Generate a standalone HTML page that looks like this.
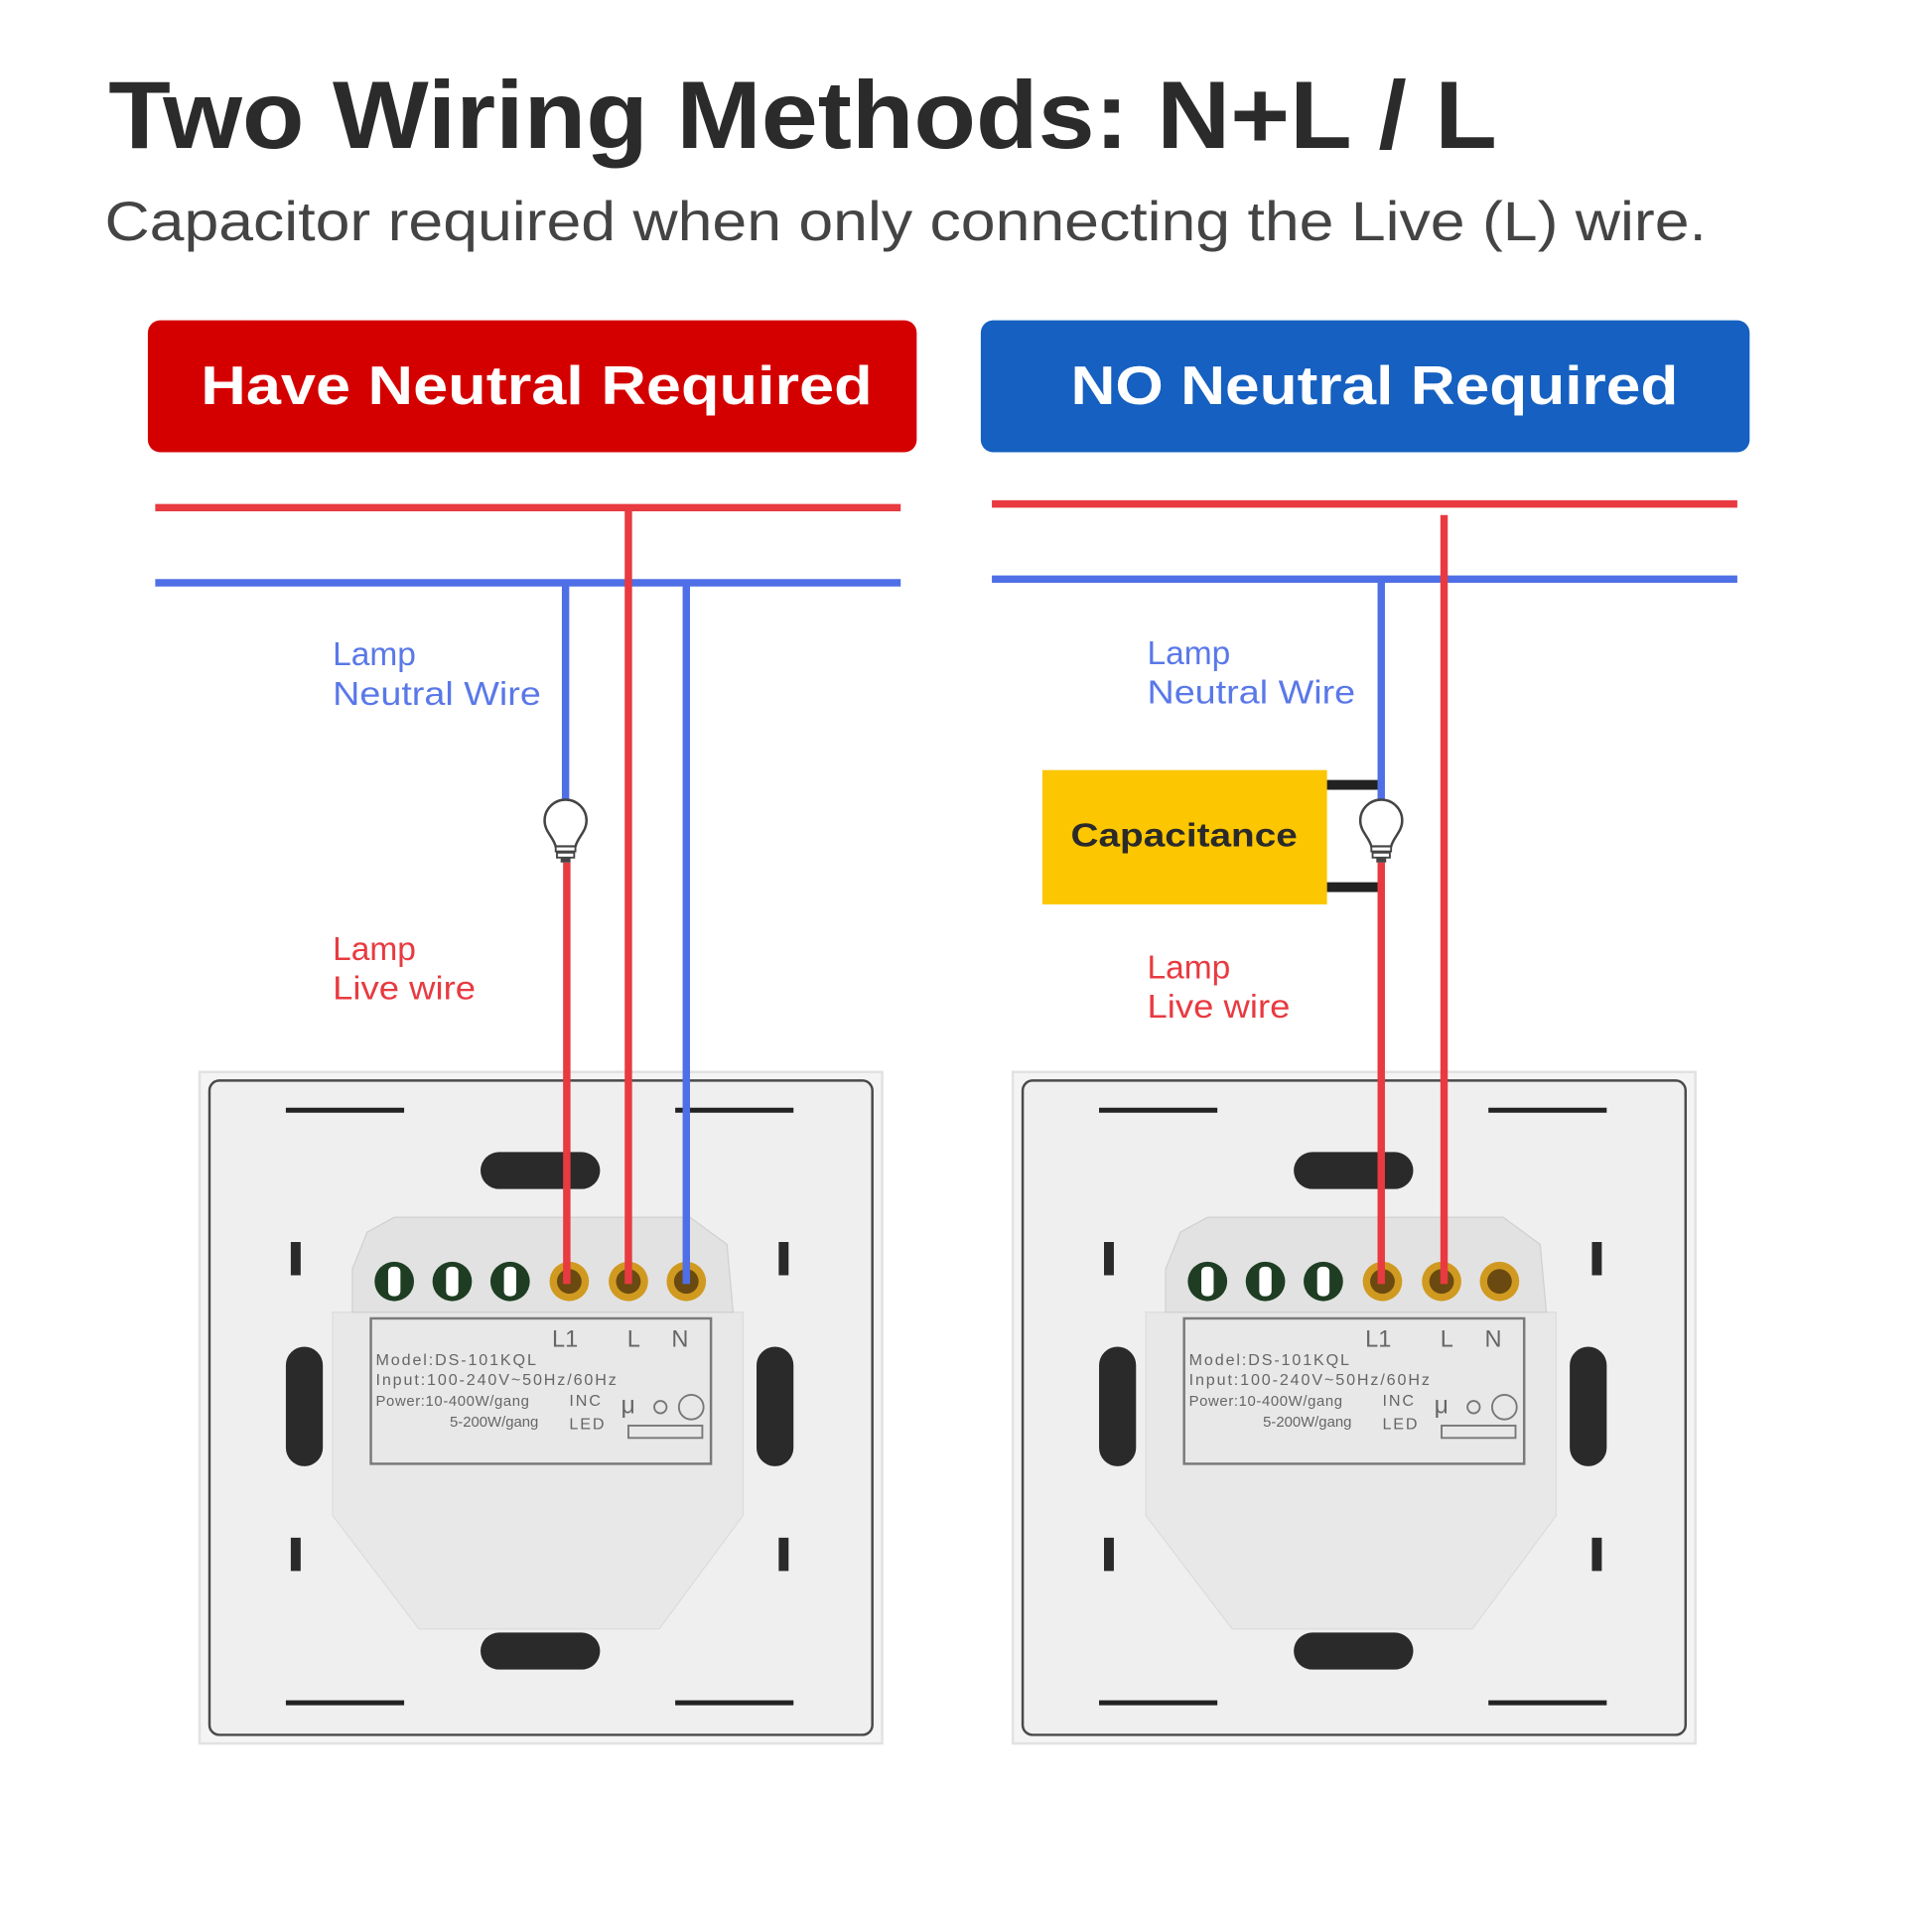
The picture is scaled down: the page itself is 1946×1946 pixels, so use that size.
<!DOCTYPE html>
<html><head><meta charset="utf-8"><style>
html,body{margin:0;padding:0;background:#fff;}
svg{display:block;}
text{font-family:"Liberation Sans",sans-serif;}
</style></head><body>
<svg width="1946" height="1946" viewBox="0 0 1568 1568" xmlns="http://www.w3.org/2000/svg">
<defs>
<g id="plate">
  <rect x="162" y="870" width="554" height="545" fill="#f4f4f4" stroke="#e2e2e2" stroke-width="2"/>
  <rect x="170" y="877" width="538" height="531" rx="8" fill="#f0f0f0" stroke="#4a4a4a" stroke-width="2"/>
  <rect x="172" y="879" width="534" height="527" rx="7" fill="#efefef"/>
  <g stroke="#222" stroke-width="4">
    <line x1="232" y1="901" x2="328" y2="901"/><line x1="548" y1="901" x2="644" y2="901"/>
    <line x1="232" y1="1382" x2="328" y2="1382"/><line x1="548" y1="1382" x2="644" y2="1382"/>
  </g>
  <g fill="#2a2a2a">
    <rect x="236" y="1008" width="8" height="27"/><rect x="632" y="1008" width="8" height="27"/>
    <rect x="236" y="1248" width="8" height="27"/><rect x="632" y="1248" width="8" height="27"/>
    <rect x="390" y="935" width="97" height="30" rx="15"/>
    <rect x="390" y="1325" width="97" height="30" rx="15"/>
    <rect x="232" y="1093" width="30" height="97" rx="15"/>
    <rect x="614" y="1093" width="30" height="97" rx="15"/>
  </g>
  <polygon points="270,1065 603,1065 603,1230 535,1322 340,1322 270,1230" fill="#e8e8e8" stroke="#dcdcdc"/>
  <polygon points="298,1000 320,988 560,988 590,1010 595,1065 286,1065 286,1030" fill="#e2e2e2" stroke="#d0d0d0"/>
  <g>
    <circle cx="320" cy="1040" r="16" fill="#1e3d22"/><rect x="315" y="1028" width="10" height="24" rx="4" fill="#fff"/>
    <circle cx="367" cy="1040" r="16" fill="#1e3d22"/><rect x="362" y="1028" width="10" height="24" rx="4" fill="#fff"/>
    <circle cx="414" cy="1040" r="16" fill="#1e3d22"/><rect x="409" y="1028" width="10" height="24" rx="4" fill="#fff"/>
    <circle cx="462" cy="1040" r="16" fill="#d09a20"/><circle cx="462" cy="1040" r="10" fill="#6a4a10"/>
    <circle cx="510" cy="1040" r="16" fill="#d09a20"/><circle cx="510" cy="1040" r="10" fill="#6a4a10"/>
    <circle cx="557" cy="1040" r="16" fill="#d09a20"/><circle cx="557" cy="1040" r="10" fill="#6a4a10"/>
  </g>
  <rect x="301" y="1070" width="276" height="118" fill="none" stroke="#7a7a7a" stroke-width="2"/>
  <g fill="#666" font-size="19"><text x="448" y="1093">L1</text><text x="509" y="1093">L</text><text x="545" y="1093">N</text></g>
  <g fill="#666" font-size="13" letter-spacing="1.5">
    <text x="305" y="1108">Model:DS-101KQL</text>
    <text x="305" y="1124">Input:100-240V~50Hz/60Hz</text>
    <text x="305" y="1141" font-size="12" letter-spacing="0.5">Power:10-400W/gang</text>
    <text x="365" y="1158" font-size="12" letter-spacing="0">5-200W/gang</text>
    <text x="462" y="1141">INC</text><text x="462" y="1160">LED</text>
    <text x="504" y="1147" font-size="20">μ</text>
  </g>
  <circle cx="536" cy="1142" r="5" fill="none" stroke="#777" stroke-width="1.5"/>
  <circle cx="561" cy="1142" r="10" fill="none" stroke="#777" stroke-width="1.5"/>
  <rect x="510" y="1157" width="60" height="10" fill="none" stroke="#777" stroke-width="1.5"/>
</g>
<g id="bulb">
  <path d="M-8 14 C-10 6 -17 2 -17 -7 A17 17 0 1 1 17 -7 C17 2 10 6 8 14 Z" fill="#fff" stroke="#444" stroke-width="2"/>
  <rect x="-8" y="14" width="16" height="4" fill="#fff" stroke="#444" stroke-width="1.5"/>
  <rect x="-7" y="19" width="14" height="4" fill="#fff" stroke="#444" stroke-width="1.5"/>
  <rect x="-4" y="23" width="8" height="4" fill="#444"/>
</g>
</defs>

<text x="88" y="120" font-size="78" font-weight="bold" fill="#2b2b2b" textLength="1127" lengthAdjust="spacingAndGlyphs">Two Wiring Methods: N+L / L</text>
<text x="85" y="195" font-size="45" fill="#444" textLength="1300" lengthAdjust="spacingAndGlyphs">Capacitor required when only connecting the Live (L) wire.</text>

<rect x="120" y="260" width="624" height="107" rx="10" fill="#d40000"/>
<text x="163" y="328" font-size="44" font-weight="bold" fill="#fff" textLength="545" lengthAdjust="spacingAndGlyphs">Have Neutral Required</text>
<rect x="796" y="260" width="624" height="107" rx="10" fill="#1560c0"/>
<text x="869" y="328" font-size="44" font-weight="bold" fill="#fff" textLength="493" lengthAdjust="spacingAndGlyphs">NO Neutral Required</text>

<use href="#plate"/>
<use href="#plate" transform="translate(660,0)"/>

<!-- left wiring -->
<line x1="126" y1="412" x2="731" y2="412" stroke="#e83a40" stroke-width="6"/>
<line x1="126" y1="473" x2="731" y2="473" stroke="#4f6fe6" stroke-width="6"/>
<line x1="459" y1="473" x2="459" y2="660" stroke="#4f6fe6" stroke-width="6"/>
<line x1="460" y1="700" x2="460" y2="1042" stroke="#e83a40" stroke-width="6"/>
<line x1="510" y1="412" x2="510" y2="1042" stroke="#e83a40" stroke-width="6"/>
<line x1="557" y1="473" x2="557" y2="1042" stroke="#4f6fe6" stroke-width="6"/>
<use href="#bulb" transform="translate(459,673)"/>
<g font-size="27" fill="#5a78e8"><text x="270" y="540">Lamp</text><text x="270" y="572" textLength="169" lengthAdjust="spacingAndGlyphs">Neutral Wire</text></g>
<g font-size="27" fill="#e83a40"><text x="270" y="779">Lamp</text><text x="270" y="811" textLength="116" lengthAdjust="spacingAndGlyphs">Live wire</text></g>

<!-- right wiring -->
<line x1="805" y1="409" x2="1410" y2="409" stroke="#e83a40" stroke-width="6"/>
<line x1="805" y1="470" x2="1410" y2="470" stroke="#4f6fe6" stroke-width="6"/>
<line x1="1121" y1="470" x2="1121" y2="660" stroke="#4f6fe6" stroke-width="6"/>
<line x1="1121" y1="700" x2="1121" y2="1042" stroke="#e83a40" stroke-width="6"/>
<line x1="1172" y1="418" x2="1172" y2="1042" stroke="#e83a40" stroke-width="6"/>
<rect x="846" y="625" width="231" height="109" fill="#fcc600"/>
<line x1="1077" y1="637" x2="1118" y2="637" stroke="#222" stroke-width="8"/>
<line x1="1077" y1="720" x2="1118" y2="720" stroke="#222" stroke-width="8"/>
<text x="869" y="687" font-size="27" font-weight="bold" fill="#2a2a2a" textLength="184" lengthAdjust="spacingAndGlyphs">Capacitance</text>
<use href="#bulb" transform="translate(1121,673)"/>
<g font-size="27" fill="#5a78e8"><text x="931" y="539">Lamp</text><text x="931" y="571" textLength="169" lengthAdjust="spacingAndGlyphs">Neutral Wire</text></g>
<g font-size="27" fill="#e83a40"><text x="931" y="794">Lamp</text><text x="931" y="826" textLength="116" lengthAdjust="spacingAndGlyphs">Live wire</text></g>
</svg>
</body></html>
